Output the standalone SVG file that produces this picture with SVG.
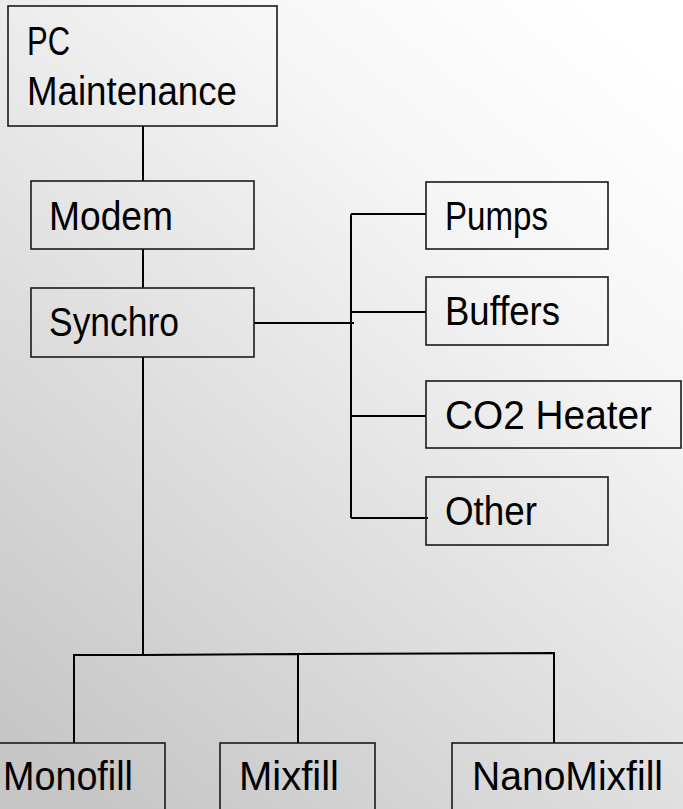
<svg xmlns="http://www.w3.org/2000/svg" width="683" height="809" viewBox="0 0 683 809">
<defs>
<linearGradient id="bg" x1="0.85" y1="0" x2="0.15" y2="1">
<stop offset="0" stop-color="#ffffff"/>
<stop offset="0.25" stop-color="#f6f6f6"/>
<stop offset="1" stop-color="#c6c6c6"/>
</linearGradient>
<style>
.box{fill:none;stroke:#1a1a1a;stroke-width:1.6}
.t{font-family:"Liberation Sans",Arial,sans-serif;font-size:40px;fill:#000}
.c{fill:none;stroke:#000;stroke-width:2}
</style>
</defs>
<rect x="0" y="0" width="683" height="809" fill="url(#bg)"/>
<g id="connectors">
<line class="c" x1="143" y1="126" x2="143" y2="181"/>
<line class="c" x1="143" y1="249" x2="143" y2="288"/>
<line class="c" x1="143" y1="357" x2="143" y2="655"/>
<line class="c" x1="254" y1="323" x2="354" y2="323"/>
<line class="c" x1="351" y1="214" x2="351" y2="518"/>
<line class="c" x1="351" y1="214" x2="426" y2="214"/>
<line class="c" x1="351" y1="312" x2="426" y2="312"/>
<line class="c" x1="351" y1="416" x2="426" y2="416" stroke-width="1.4" stroke="#333"/>
<line class="c" x1="351" y1="518" x2="428" y2="518"/>
<polyline class="c" points="74,743 74,655 143,655 298,654 298,743"/>
<polyline class="c" points="298,654 554,653 554,743" stroke-width="1.6"/>
</g>
<g id="pc-maintenance">
<rect class="box" x="8" y="6" width="269" height="120"/>
<text class="t" x="27" y="55" textLength="43" lengthAdjust="spacingAndGlyphs">PC</text>
<text class="t" x="27" y="105" textLength="210" lengthAdjust="spacingAndGlyphs">Maintenance</text>
</g>
<g id="modem">
<rect class="box" x="31" y="181" width="223" height="68"/>
<text class="t" x="49" y="230" textLength="124" lengthAdjust="spacingAndGlyphs">Modem</text>
</g>
<g id="synchro">
<rect class="box" x="31" y="288" width="223" height="69"/>
<text class="t" x="49" y="336" textLength="130" lengthAdjust="spacingAndGlyphs">Synchro</text>
</g>
<g id="pumps">
<rect class="box" x="426" y="182" width="182" height="67"/>
<text class="t" x="445" y="230" textLength="103" lengthAdjust="spacingAndGlyphs">Pumps</text>
</g>
<g id="buffers">
<rect class="box" x="426" y="277" width="182" height="68"/>
<text class="t" x="445" y="325" textLength="115" lengthAdjust="spacingAndGlyphs">Buffers</text>
</g>
<g id="co2-heater">
<rect class="box" x="426" y="381" width="255" height="67"/>
<text class="t" x="445" y="429" textLength="207" lengthAdjust="spacingAndGlyphs">CO2 Heater</text>
</g>
<g id="other">
<rect class="box" x="426" y="477" width="182" height="68"/>
<text class="t" x="445" y="525" textLength="92" lengthAdjust="spacingAndGlyphs">Other</text>
</g>
<g id="monofill">
<rect class="box" x="-1" y="743" width="166" height="80"/>
<text class="t" x="3" y="790" textLength="130" lengthAdjust="spacingAndGlyphs">Monofill</text>
</g>
<g id="mixfill">
<rect class="box" x="220" y="743" width="155" height="80"/>
<text class="t" x="239" y="790" textLength="100" lengthAdjust="spacingAndGlyphs">Mixfill</text>
</g>
<g id="nanomixfill">
<rect class="box" x="452" y="743" width="240" height="80"/>
<text class="t" x="472" y="790" textLength="191" lengthAdjust="spacingAndGlyphs">NanoMixfill</text>
</g>
</svg>
